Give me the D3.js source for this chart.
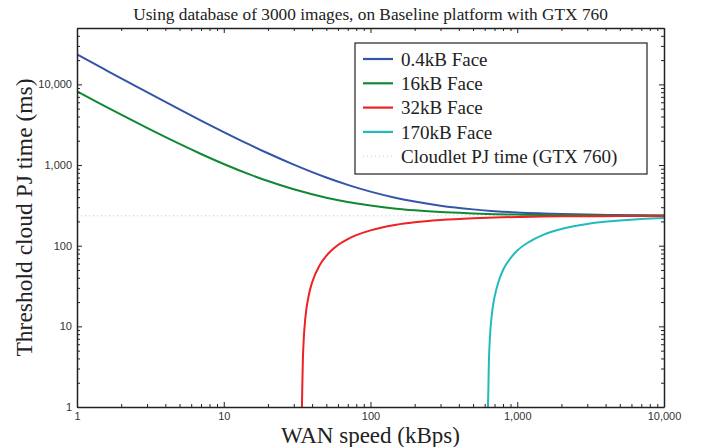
<!DOCTYPE html>
<html>
<head>
<meta charset="utf-8">
<script src="https://cdn.jsdelivr.net/npm/d3@7"></script>
<style>
  body { margin: 0; background: #fff; }
  .tick text { font-family: "Liberation Sans", Arial, sans-serif; font-size: 11px; fill: #333; }
</style>
</head>
<body>
<div id="chart"></div>
<script>
// values (WAN speed in kBps, threshold in ms)
const wanSpeed = [1, 1.5, 2, 3, 5, 7, 10, 15, 20, 30, 50, 70, 100, 150, 200, 300, 500, 700, 1000, 1500, 2000, 3000, 5000, 7000, 10000];
const face04 = [23500, 15770, 11885, 8000, 4895, 3564, 2565, 1788, 1400, 1012, 701, 568, 468, 390, 352, 313, 282, 268, 258, 251, 247, 243, 240, 238, 237];
const face16 = [8190, 5535, 4210, 2885, 1825, 1371, 1030, 765, 633, 500, 394, 349, 315, 288, 275, 261, 251, 246, 243, 240, 239, 238, 237, 236, 236];
const face32Speed = [34.1, 34.3, 34.6, 35, 36, 38, 40, 45, 50, 60, 70, 80, 100, 150, 200, 300, 500, 700, 1000, 1500, 2000, 3000, 5000, 7000, 10000];
const face32 = [1, 1.8, 3.8, 6.4, 12.8, 24.5, 35, 57, 75, 102, 121, 135, 155, 182, 195, 208, 219, 224, 227, 230, 231, 232, 233, 234, 234];
const face170Speed = [631, 635, 640, 650, 660, 680, 700, 750, 800, 900, 1000, 1200, 1500, 2000, 3000, 5000, 7000, 10000];
const face170 = [1, 1.5, 3.3, 6.8, 10.3, 16.9, 23, 37, 50, 70, 87, 111, 136, 161, 186, 205, 214, 220];
const cloudletTime = 235;

const majorTicks = [1, 10, 100, 1000, 10000];
const seriesNames = ["0.4kB Face", "16kB Face", "32kB Face", "170kB Face"];
const seriesColors = ["#3355aa", "#118833", "#ee2222", "#22bbbb"];

const serif = '"Liberation Serif", "DejaVu Serif", "Times New Roman", serif';

const width = 702, height = 447;
const margin = {top: 28, right: 38, bottom: 40, left: 77};

const svg = d3.select("#chart").append("svg")
    .attr("width", width).attr("height", height);

const x = d3.scaleLog().domain([1, 10000]).range([margin.left, width - margin.right]);
const y = d3.scaleLog().domain([1, 50000]).range([height - margin.bottom, margin.top]);

const minorX = [];
const minorY = [];
majorTicks.forEach(function(m) {
  for (let k = 2; k <= 9; k++) {
    if (m * k < 10000) minorX.push(m * k);
    if (m * k < 50000) minorY.push(m * k);
  }
});

svg.append("clipPath").attr("id", "clip")
  .append("rect")
    .attr("x", margin.left).attr("y", margin.top)
    .attr("width", x.range()[1] - margin.left)
    .attr("height", y.range()[0] - margin.top);

// cloudlet reference line
svg.append("line")
    .attr("x1", x(1)).attr("x2", x(10000))
    .attr("y1", y(cloudletTime)).attr("y2", y(cloudletTime))
    .attr("stroke", "#c8c8c8")
    .attr("stroke-width", 1)
    .attr("stroke-dasharray", "1,3");

const line = d3.line()
    .x(function(d) { return x(d[0]); })
    .y(function(d) { return y(d[1]); })
    .curve(d3.curveMonotoneX);

const series = [
  d3.zip(wanSpeed, face04),
  d3.zip(wanSpeed, face16),
  d3.zip(face32Speed, face32),
  d3.zip(face170Speed, face170)
];

svg.append("g")
    .attr("clip-path", "url(#clip)")
    .attr("fill", "none")
    .attr("stroke-width", 2)
  .selectAll("path")
  .data(series)
  .enter().append("path")
    .attr("stroke", function(d, i) { return seriesColors[i]; })
    .attr("d", line);

// axes, ticks on all four sides pointing inward
const bottomY = y.range()[0], rightX = x.range()[1];

function styleAxis(g) {
  g.selectAll(".domain").attr("stroke", "#222").attr("stroke-width", 1.5);
  g.selectAll(".tick line").attr("stroke", "#222");
}

svg.append("g")
    .attr("transform", "translate(0," + bottomY + ")")
    .call(d3.axisBottom(x).tickValues(majorTicks).tickFormat(d3.format(",")).tickSizeInner(-5).tickSizeOuter(0).tickPadding(5))
    .call(styleAxis);
svg.append("g")
    .attr("transform", "translate(0," + bottomY + ")")
    .call(d3.axisBottom(x).tickValues(minorX).tickFormat("").tickSize(-3))
    .call(styleAxis)
    .select(".domain").remove();

svg.append("g")
    .attr("transform", "translate(0," + margin.top + ")")
    .call(d3.axisTop(x).tickValues(majorTicks).tickFormat("").tickSizeInner(-5).tickSizeOuter(0))
    .call(styleAxis);
svg.append("g")
    .attr("transform", "translate(0," + margin.top + ")")
    .call(d3.axisTop(x).tickValues(minorX).tickFormat("").tickSize(-3))
    .call(styleAxis)
    .select(".domain").remove();

svg.append("g")
    .attr("transform", "translate(" + margin.left + ",0)")
    .call(d3.axisLeft(y).tickValues(majorTicks).tickFormat(d3.format(",")).tickSizeInner(-5).tickSizeOuter(0).tickPadding(5))
    .call(styleAxis);
svg.append("g")
    .attr("transform", "translate(" + margin.left + ",0)")
    .call(d3.axisLeft(y).tickValues(minorY).tickFormat("").tickSize(-3))
    .call(styleAxis)
    .select(".domain").remove();

svg.append("g")
    .attr("transform", "translate(" + rightX + ",0)")
    .call(d3.axisRight(y).tickValues(majorTicks).tickFormat("").tickSizeInner(-5).tickSizeOuter(0))
    .call(styleAxis);
svg.append("g")
    .attr("transform", "translate(" + rightX + ",0)")
    .call(d3.axisRight(y).tickValues(minorY).tickFormat("").tickSize(-3))
    .call(styleAxis)
    .select(".domain").remove();

// titles
svg.append("text")
    .attr("font-family", serif).attr("fill", "#222")
    .attr("x", (margin.left + rightX) / 2).attr("y", 20)
    .attr("text-anchor", "middle")
    .attr("font-size", 17.3)
    .text("Using database of 3000 images, on Baseline platform with GTX 760");

svg.append("text")
    .attr("font-family", serif).attr("fill", "#222")
    .attr("x", (margin.left + rightX) / 2).attr("y", 443)
    .attr("text-anchor", "middle")
    .attr("font-size", 23)
    .text("WAN speed (kBps)");

svg.append("text")
    .attr("font-family", serif).attr("fill", "#222")
    .attr("transform", "translate(32," + (bottomY + margin.top) / 2 + ") rotate(-90)")
    .attr("text-anchor", "middle")
    .attr("font-size", 23.5)
    .text("Threshold cloud PJ time (ms)");

// legend
const legend = svg.append("g").attr("transform", "translate(355,43)");
legend.append("rect")
    .attr("width", 292).attr("height", 131)
    .attr("fill", "#fff").attr("stroke", "#222").attr("stroke-width", 1.2);

const legendItems = seriesNames.map(function(n, i) {
  return {name: n, color: seriesColors[i], dotted: false};
}).concat([{name: "Cloudlet PJ time (GTX 760)", color: "#c8c8c8", dotted: true}]);

const item = legend.selectAll(".item")
  .data(legendItems)
  .enter().append("g")
    .attr("transform", function(d, i) { return "translate(0," + (16 + i * 24.3) + ")"; });

item.append("line")
    .attr("x1", 8).attr("x2", 38)
    .attr("stroke", function(d) { return d.color; })
    .attr("stroke-width", function(d) { return d.dotted ? 1 : 2.2; })
    .attr("stroke-dasharray", function(d) { return d.dotted ? "1,3" : null; });

item.append("text")
    .attr("font-family", serif).attr("fill", "#222")
    .attr("x", 46).attr("dy", "0.35em")
    .attr("font-size", 19)
    .text(function(d) { return d.name; });
</script>
</body>
</html>
